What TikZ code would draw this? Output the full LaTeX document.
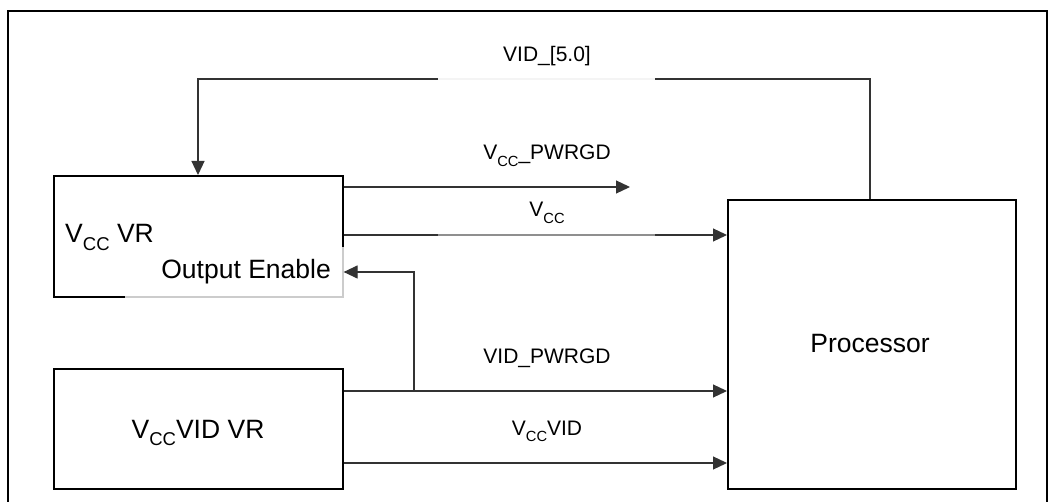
\documentclass[tikz,border=0pt]{standalone}
\usepackage{fontspec}
\setmainfont{Liberation Sans}
\usetikzlibrary{arrows.meta}
\newcommand\sbs[1]{\raisebox{-0.3em}{\scalebox{0.7}{#1}}}
\tikzset{
  frameline/.style={line width=2pt, black},
  blockbox/.style={draw=black, line width=1.6pt, inner sep=0pt, anchor=north west},
  conn/.style={draw=black!80, line width=1.2pt},
  arr/.style={conn, -{Triangle[length=14pt,width=13pt]}},
  biglabel/.style={font=\fontsize{26.5pt}{30pt}\selectfont, inner sep=0pt},
  siglabel/.style={font=\fontsize{21pt}{25pt}\selectfont, inner sep=0pt},
  cover/.style={fill=white}
}
\begin{document}
\begin{tikzpicture}[x=1pt,y=-1pt]
\useasboundingbox (0,0) rectangle (1048,502);
% outer frame
\draw[frameline] (8,502) -- (8,11) -- (1047,11) -- (1047,502);
% blocks
\node[blockbox, minimum width=289pt, minimum height=121pt] (vr) at (53,175) {};
\node[blockbox, minimum width=289pt, minimum height=120pt] (vidvr) at (53,368) {};
\node[blockbox, minimum width=288pt, minimum height=289pt] (proc) at (727,199) {};
% partial white cover of the Output Enable label
\fill[cover, opacity=0.8] (125,247) rectangle (344,298);
% coordinates
\coordinate (fbR) at (870,79);
\coordinate (fbL) at (198,79);
\coordinate (pgEnd) at (630,187);
\coordinate (vccY) at (0,235);
\coordinate (oeJ) at (414,391);
\coordinate (oeY) at (0,272);
\coordinate (vidY) at (0,463);
% connectors
\draw[arr] (proc.north -| fbR) -- (fbR) -- (fbL) -- (fbL |- vr.north);
\draw[arr] (vr.east |- pgEnd) -- (pgEnd);
\draw[arr] (vr.east |- vccY) -- (proc.west |- vccY);
\draw[arr] (vidvr.east |- oeJ) -- (proc.west |- oeJ);
\draw[arr] (oeJ) -- (oeJ |- oeY) -- (vr.east |- oeY);
\draw[arr] (vidvr.east |- vidY) -- (proc.west |- vidY);
% label backgrounds
\fill[cover, opacity=0.95] (438,30) rectangle (655,80.2);
\fill[cover, opacity=0.45] (438,200) rectangle (655,236.5);
% labels
\node[siglabel] (lvid) at (547,56) {VID\_[5.0]};
\node[siglabel, anchor=base] (lpg) at (547,160) {V\sbs{CC}\_PWRGD};
\node[siglabel, anchor=base] (lvcc) at (547,217) {V\sbs{CC}};
\node[siglabel, anchor=base] (lvidpg) at (547,363) {VID\_PWRGD};
\node[siglabel, anchor=base] (lvccvid) at (547,435) {V\sbs{CC}VID};
\node[biglabel, anchor=base west] (lvr) at (65,243) {V\sbs{CC} VR};
\node[biglabel, anchor=base east] (loe) at (331,279) {Output Enable};
\node[biglabel, anchor=base] (lvidvr) at (198,438) {V\sbs{CC}VID VR};
\node[biglabel, anchor=base] (lproc) at (870,352) {Processor};
\end{tikzpicture}
\end{document}
